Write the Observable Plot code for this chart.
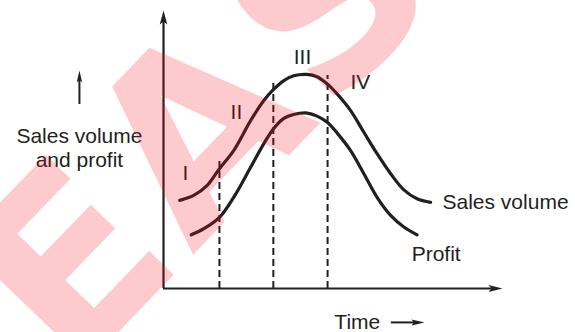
<!DOCTYPE html>
<html>
<head>
<meta charset="utf-8">
<script src="https://cdn.jsdelivr.net/npm/d3@7"></script>
<script src="https://cdn.jsdelivr.net/npm/@observablehq/plot@0.6"></script>
<style>
  html, body { margin: 0; padding: 0; background: #fff; }
  #chart svg { display: block; }
</style>
</head>
<body>
<div id="chart"></div>
<script>
// Product life cycle: sales volume and profit over time (0–100 scale on both axes)
const salesTime   = [4.8, 8.9, 12.9, 16.5, 20.7, 25.7, 29.6, 32.4, 35.5, 38.4, 42.2, 45.3, 48.3, 51.2, 55.2, 59.1, 63.0, 67.0, 70.9, 74.8, 78.8];
const salesVolume = [31.7, 33.5, 37.1, 43.1, 49.6, 60.4, 67.6, 71.5, 74.8, 76.5, 77.0, 76.2, 73.6, 70.0, 64.0, 56.2, 48.5, 41.3, 35.5, 32.3, 31.0];

const profitTime  = [8.2, 11.9, 16.5, 20.7, 25.7, 29.6, 32.4, 35.5, 38.4, 42.4, 45.3, 48.4, 51.3, 55.2, 59.1, 63.0, 67.0, 70.9, 74.8];
const profitValue = [19.3, 21.5, 25.6, 32.8, 43.6, 52.1, 57.4, 61.2, 62.6, 63.1, 62.0, 59.7, 55.8, 49.6, 41.3, 32.8, 26.3, 22.1, 19.3];

// Boundaries between the four stages and how high each dashed divider reaches
const stageBounds = [16.5, 32.4, 48.4];
const stageTops   = [45.7, 75.2, 76.6];

// Stage numerals
const stageNames = ["I", "II", "III", "IV"];
const stageNameTime  = [6.5, 21.5, 41.0, 58.1];
const stageNameValue = [41.4, 63.3, 83.1, 74.1];

// Curve labels
const curveNames = ["Sales volume", "Profit"];
const curveNameTime  = [82.3, 73.2];
const curveNameValue = [30.9, 12.2];

const ink = "#231f20";

const sales  = salesTime.map((t, i) => ({t, v: salesVolume[i]}));
const profit = profitTime.map((t, i) => ({t, v: profitValue[i]}));
const dividers = stageBounds.map((t, i) => ({t, top: stageTops[i]}));
const numerals = stageNames.map((s, i) => ({s, t: stageNameTime[i], v: stageNameValue[i]}));
const curveLabels = curveNames.map((s, i) => ({s, t: curveNameTime[i], v: curveNameValue[i]}));

// Filled, slightly notched arrowhead; tip at the origin, pointing up
const arrowHead = (len, wid, notch) => ({
  draw(ctx) {
    ctx.moveTo(0, 0);
    ctx.lineTo(wid / 2, len);
    ctx.lineTo(0, len - notch);
    ctx.lineTo(-wid / 2, len);
    ctx.closePath();
  }
});

const fs = 21;

const chart = Plot.plot({
  width: 575,
  height: 332,
  marginLeft: 163,
  marginRight: 73,
  marginTop: 10,
  marginBottom: 44,
  style: {fontFamily: "'Liberation Sans', Arial, sans-serif", fontSize: fs + "px", color: ink, background: "#fff"},
  x: {domain: [0, 100], axis: null},
  y: {domain: [0, 100], axis: null},
  marks: [
    // axes with arrowheads
    Plot.ruleX([0], {y1: 0, y2: 96, stroke: ink, strokeWidth: 2.2}),
    Plot.ruleY([0], {x1: 0, x2: 97, stroke: ink, strokeWidth: 2.2}),
    Plot.dot([{t: 0, v: 100}], {x: "t", y: "v", symbol: arrowHead(14, 7.5, 3), fill: ink, stroke: "none", r: 5}),
    Plot.dot([{t: 100, v: 0}], {x: "t", y: "v", symbol: arrowHead(14, 7, 3), rotate: 90, fill: ink, stroke: "none", r: 5}),

    // stage dividers
    Plot.ruleX(dividers, {x: "t", y1: 0, y2: "top", stroke: ink, strokeWidth: 2, strokeDasharray: "7,4"}),

    // curves
    Plot.line(sales,  {x: "t", y: "v", curve: "catmull-rom", stroke: ink, strokeWidth: 3.2, strokeLinecap: "round"}),
    Plot.line(profit, {x: "t", y: "v", curve: "catmull-rom", stroke: ink, strokeWidth: 3.2, strokeLinecap: "round"}),

    // labels
    Plot.text(numerals, {x: "t", y: "v", text: "s", fontSize: fs, fill: ink}),
    Plot.text(curveLabels, {x: "t", y: "v", text: "s", fontSize: fs, fill: ink, textAnchor: "start"}),

    // axis titles
    Plot.text(["Time"], {x: 50.4, y: -12.2, text: d => d, fontSize: fs, fill: ink, textAnchor: "start"}),
    Plot.ruleY([-12.2], {x1: 67.2, x2: 74.5, stroke: ink, strokeWidth: 2}),
    Plot.dot([{t: 77.0, v: -12.2}], {x: "t", y: "v", symbol: arrowHead(13, 6, 2.5), rotate: 90, fill: ink, stroke: "none", r: 5}),

    Plot.text(["Sales volume\nand profit"], {x: -24.8, y: 50.7, text: d => d, fontSize: fs, lineHeight: 1.15, fill: ink}),
    Plot.ruleX([-24.8], {y1: 66.2, y2: 76, stroke: ink, strokeWidth: 2}),
    Plot.dot([{t: -24.8, v: 78.4}], {x: "t", y: "v", symbol: arrowHead(12, 5.5, 2.5), fill: ink, stroke: "none", r: 5})
  ]
});

// translucent red stamp across the drawing
d3.select(chart).append("text")
  .attr("transform", "translate(72,380) rotate(-46)")
  .attr("text-anchor", "start")
  .attr("font-family", "'DejaVu Sans', sans-serif")
  .attr("font-weight", "bold")
  .attr("font-size", 240)
  .attr("letter-spacing", 9)
  .attr("fill", "rgb(245,15,30)")
  .attr("fill-opacity", 0.22)
  .text("EAS");

document.getElementById("chart").appendChild(chart);
</script>
</body>
</html>
